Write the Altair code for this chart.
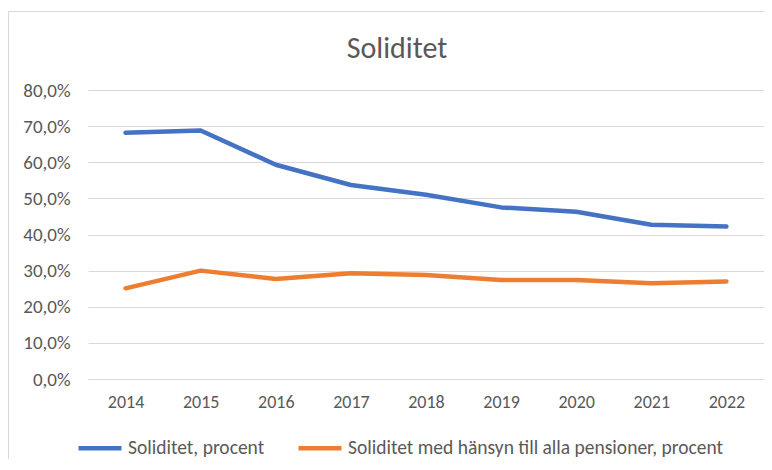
import altair as alt
import pandas as pd

years = ["2014", "2015", "2016", "2017", "2018", "2019", "2020", "2021", "2022"]
soliditet = [68.2, 68.8, 59.3, 53.7, 51.0, 47.5, 46.3, 42.7, 42.2]
soliditet_pension = [25.1, 30.0, 27.7, 29.3, 28.8, 27.4, 27.4, 26.5, 27.0]
series_names = ["Soliditet, procent", "Soliditet med hänsyn till alla pensioner, procent"]
series_colors = ["#4472C4", "#ED7D31"]
y_ticks = [0, 10, 20, 30, 40, 50, 60, 70, 80]
title_text = "Soliditet"

rows = []
for name, vals in zip(series_names, [soliditet, soliditet_pension]):
    for y, v in zip(years, vals):
        rows.append({"year": y, "value": v, "series": name})
df = pd.DataFrame(rows)

FONT = "Carlito, Calibri, Lato, sans-serif"
TXT = "#595959"

lines = alt.Chart(df).mark_line(strokeWidth=4.5, strokeCap="round", strokeJoin="round").encode(
    x=alt.X("year:O", sort=years,
            axis=alt.Axis(title=None, labelAngle=0, ticks=False, domain=False, grid=False,
                          labelPadding=14, labelFontSize=18, labelColor=TXT, labelFont=FONT)),
    y=alt.Y("value:Q", scale=alt.Scale(domain=[0, 80], nice=False),
            axis=alt.Axis(title=None, values=y_ticks, ticks=False, domain=False, grid=True,
                          gridColor="#D9D9D9", gridWidth=1.2, labelPadding=18,
                          labelFontSize=19, labelColor=TXT, labelFont=FONT,
                          labelExpr="replace(format(datum.value, '.1f'), '.', ',') + '%'")),
    color=alt.Color("series:N", sort=series_names,
                    scale=alt.Scale(domain=series_names, range=series_colors),
                    legend=alt.Legend(title=None, orient="none", direction="horizontal",
                                      legendX=-12, legendY=334, symbolType="stroke",
                                      symbolSize=1849, symbolStrokeWidth=4.5,
                                      labelFontSize=19.5, labelColor=TXT, labelFont=FONT,
                                      labelOffset=4, columnPadding=24, labelLimit=600)),
)

frame_df = pd.DataFrame({"k": [0]})
top_border = alt.Chart(frame_df).mark_rule(color="#D9D9D9", strokeWidth=1).encode(
    x=alt.value(-80), x2=alt.value(684), y=alt.value(-78.5), y2=alt.value(-78.5))
left_border = alt.Chart(frame_df).mark_rule(color="#D9D9D9", strokeWidth=1).encode(
    x=alt.value(-79.5), x2=alt.value(-79.5), y=alt.value(-79), y2=alt.value(380))

chart = alt.layer(top_border, left_border, lines).properties(
    width=676, height=289,
    title=alt.TitleParams(title_text, fontSize=30, font=FONT, color=TXT, fontWeight="normal",
                          anchor="middle", dx=-29, offset=-77, baseline="alphabetic"),
    autosize=alt.AutoSizeParams(type="none"),
    padding={"left": 80, "top": 82, "right": 0, "bottom": 80},
).configure_view(stroke=None)

chart.save("out.html", embed_options={"renderer": "svg", "actions": False})
